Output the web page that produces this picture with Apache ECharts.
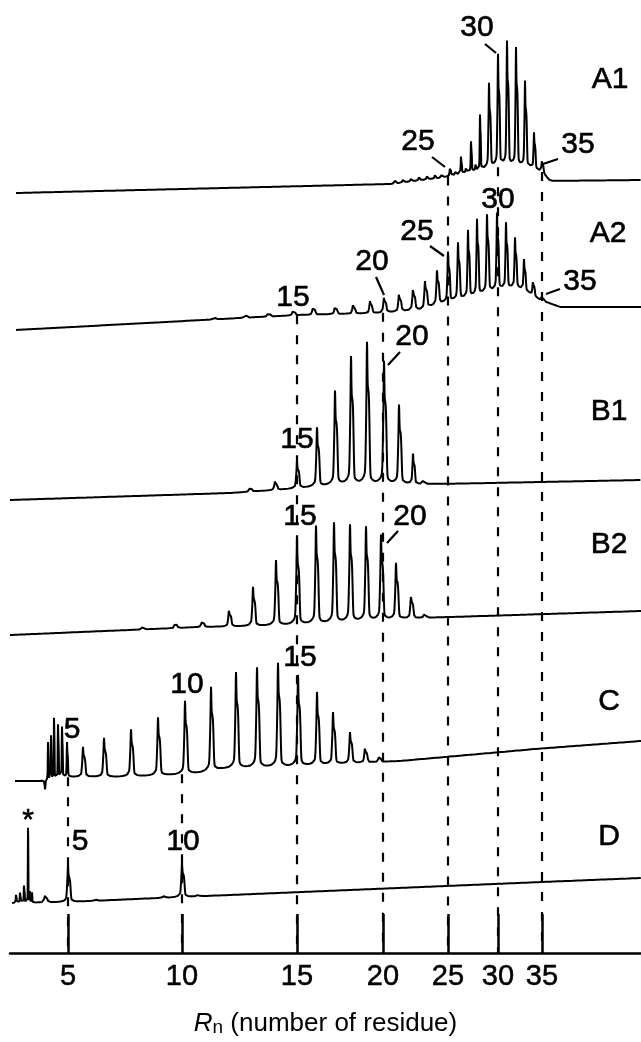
<!DOCTYPE html>
<html><head><meta charset="utf-8">
<script src="https://cdn.jsdelivr.net/npm/echarts@6/dist/echarts.min.js"></script>
<style>html,body{margin:0;padding:0;background:#fff}#c{width:641px;height:1042px}</style>
</head><body><div id="c"></div>
<script>
// ---- axis: retention position of each residue number ----
const residueTicks = [5, 10, 15, 20, 25, 30, 35];
const tickTimes = [5.8, 17.2, 28.7, 37.3, 43.8, 48.8, 53.2];
const dashTopTrace = ['C', 'C', 'A2', 'A2', 'A1', 'A1', 'A1'];

// ---- traces: baseline knots [t, signal] and peaks [t, height] ----
const a1Baseline = [[0.6,76.0],[38.0,76.9],[43.0,77.5],[46.0,78.1],[49.0,78.6],[52.0,78.5],[53.2,78.1],[54.0,77.2],[63.1,77.3]];
const a1Peaks = [[38.5,0.25],[39.3,0.3],[40.1,0.3],[40.9,0.35],[41.7,0.35],[42.5,0.4],[43.2,0.4],
  [44.0,0.9],[44.55,0.4],[45.1,1.7],[45.6,0.5],[46.1,3.0],[46.55,0.6],[47.0,5.5],[47.9,8.5],[48.8,11.2],
  [49.7,12.5],[50.6,11.9],[51.5,8.6],[52.4,3.6],[53.2,1.2]];

const a2Baseline = [[0.6,62.3],[23.0,63.5],[29.0,63.8],[37.0,64.0],[41.0,64.3],[43.0,64.9],[46.3,65.6],[49.0,66.3],[50.7,66.5],[51.7,66.1],[53.0,65.3],[55.0,64.6],[63.1,64.6]];
const a2Peaks = [[20.4,0.2],[23.5,0.3],[25.8,0.4],[28.3,0.5],[30.3,0.8],[32.5,0.8],[34.3,0.9],[36.0,1.2],
  [37.4,1.6],[38.9,1.8],[40.3,2.2],[41.5,2.7],[42.7,3.4],[43.8,5.0],[44.8,5.7],[45.8,6.7],[46.7,7.6],
  [47.7,7.8],[48.7,7.7],[49.6,6.6],[50.5,5.0],[51.4,3.1],[52.3,1.5],[53.2,0.5]];

const b1Baseline = [[0.0,45.3],[22.0,46.0],[28.0,46.4],[33.0,46.8],[43.0,46.9],[63.1,47.3]];
const b1Peaks = [[24.0,0.4],[26.5,0.9],[28.7,2.7],[30.7,5.9],[32.5,9.4],[34.1,12.8],[35.7,14.2],
  [37.4,12.3],[38.9,7.9],[40.3,3.0],[41.3,0.3]];

const b2Baseline = [[0.0,31.8],[19.0,32.6],[25.0,32.7],[31.0,32.9],[36.0,33.2],[41.0,33.5],[63.1,34.2]];
const b2Peaks = [[13.2,0.2],[16.5,0.5],[19.2,0.6],[21.9,1.7],[24.3,3.9],[26.6,6.5],[28.7,8.7],[30.6,9.8],
  [32.4,10.0],[34.0,9.7],[35.6,9.4],[37.1,8.5],[38.6,5.6],[40.1,2.3],[41.4,0.3]];

const cBaseline = [[0.5,17.2],[3.4,17.2],[6.0,17.6],[10.7,17.6],[16.3,17.8],[19.0,18.0],[21.3,18.4],[23.7,18.5],[27.7,18.6],[31.5,18.8],[34.7,19.0],[39.0,19.2],[52.5,20.4],[63.1,21.2]];
const cPeaks = [[3.5,-0.9],[3.8,3.8],[4.1,4.4],[4.4,6.1],[4.8,5.4],[5.2,5.1],[5.7,3.5],[7.3,3.0],[9.4,3.9],
  [12.1,4.7],[14.8,5.8],[17.5,7.3],[20.1,8.4],[22.6,9.6],[24.7,10.0],[26.8,10.4],[28.8,9.1],[30.7,7.3],
  [32.3,5.2],[34.0,3.1],[35.5,1.5],[36.9,0.5]];

const dBaseline = [[0.2,5.0],[5.8,5.1],[17.2,5.6],[53.2,7.1],[63.1,7.5]];
const dPeaks = [[0.6,0.8],[1.0,1.0],[1.4,1.7],[1.8,7.5],[2.0,1.1],[2.2,1.0],[3.5,0.7],[5.8,3.7],
  [8.5,0.15],[15.3,0.2],[17.2,3.4],[18.7,0.15]];

// ---- annotations ----
const peakLabels = [[46.7,92.5,'30'],[40.8,81.1,'25'],[56.8,80.8,'35'],
  [48.8,75.3,'30'],[40.7,72.1,'25'],[36.2,69.1,'20'],[28.3,65.5,'15'],[57.0,67.1,'35'],
  [40.2,61.6,'20'],[28.7,51.3,'15'],
  [29.0,43.6,'15'],[40.0,43.6,'20'],
  [6.2,22.3,'5'],[17.7,26.8,'10'],[29.0,29.5,'15'],
  [1.8,13.2,'*'],[7.0,11.1,'5'],[17.3,11.1,'10']];
const traceLabels = [[60.0,87.3,'A1'],[59.8,71.9,'A2'],[59.9,54.1,'B1'],[59.9,40.8,'B2'],[59.9,25.1,'C'],[59.9,11.6,'D']];
const leaders = [[[42.2,79.6],[43.5,78.6]],[[47.5,90.9],[48.6,90.0]],[[53.3,78.9],[54.8,79.4]],
  [[42.0,70.7],[43.4,69.7]],[[36.6,67.6],[37.4,65.8]],[[53.6,65.9],[55.0,66.4]],
  [[39.0,60.1],[37.8,58.8]],[[38.8,42.2],[37.7,41.0]]];

const X_MAX = 63.1, Y_MAX = 95.3;
const FONT = 'Liberation Sans, Arial, sans-serif';

const traces = {A1:[a1Baseline,a1Peaks],A2:[a2Baseline,a2Peaks],B1:[b1Baseline,b1Peaks],B2:[b2Baseline,b2Peaks],C:[cBaseline,cPeaks],D:[dBaseline,dPeaks]};

function interp(knots, t){
  if (t <= knots[0][0]) return knots[0][1];
  for (let i=1;i<knots.length;i++){
    if (t <= knots[i][0]){
      const a=knots[i-1], b=knots[i];
      return a[1] + (b[1]-a[1])*(t-a[0])/(b[0]-a[0]);
    }
  }
  return knots[knots.length-1][1];
}
function L(d,w){ const r=d/w; return 1/(1+r*r); }
function G(d,s){ const r=d/s; return Math.exp(-0.5*r*r); }
function G4(d,s){ const r=d/s; return Math.exp(-r*r*r*r); }
// peak profile: thin apex + steep-sided body + faint rounded skirt; k narrows crowded peaks
function shapeRaw(d,k){ return 0.32*G(d,0.03*Math.max(k,0.6)) + 0.56*G4(d-0.08*k,0.2*k) + 0.12*L(d,0.28*k); }
function peakNorm(k){ let m=0; for (let d=-0.2; d<=0.4; d+=0.0005) m=Math.max(m, shapeRaw(d,k)); return m; }

function buildTrace(base, peaks){
  const t0 = base[0][0];
  const sorted = peaks.slice().sort((a,b)=>a[0]-b[0]);
  const prof = sorted.map((p,i) => {
    const gl = i>0 ? p[0]-sorted[i-1][0] : 9, gr = i<sorted.length-1 ? sorted[i+1][0]-p[0] : 9;
    const k = Math.min(1, Math.min(gl,gr)/1.2);
    return {t:p[0], h:p[1], k, n:peakNorm(k)};
  });
  const ts = [];
  for (let t=t0; t<=X_MAX+1e-9; t+=0.02) ts.push(+t.toFixed(3));
  peaks.forEach(p => ts.push(p[0]));
  ts.sort((a,b)=>a-b);
  return ts.map(t => {
    let v = interp(base, t);
    for (const p of prof){ const d=t-p.t; if (Math.abs(d)<8) v += p.h*shapeRaw(d,p.k)/p.n; }
    return [t, +v.toFixed(3)];
  });
}

const series = [];
// dashed guide lines from each residue tick up to the trace where it is labelled
tickTimes.forEach((t,i) => {
  const top = interp(traces[dashTopTrace[i]][0], t);
  series.push({type:'line', data:[[t,top],[t,0]], showSymbol:false, silent:true, z:1,
    lineStyle:{color:'#000', width:2.2, type:[9,11]}, animation:false});
});
Object.keys(traces).forEach(k => {
  series.push({type:'line', name:k, data: buildTrace(traces[k][0], traces[k][1]), showSymbol:false,
    silent:true, z:3, lineStyle:{color:'#000', width:2}, animation:false});
});
series.push({type:'lines', coordinateSystem:'cartesian2d', z:4, silent:true, animation:false,
  lineStyle:{color:'#000', width:2.2, opacity:1}, data: leaders.map(c => ({coords:c}))});
series.push({type:'scatter', z:5, silent:true, animation:false, symbolSize:1, itemStyle:{color:'rgba(0,0,0,0)'},
  data: peakLabels.concat(traceLabels).map(l => ({value:[l[0],l[1]], name:l[2]})),
  label:{show:true, position:'inside', formatter:'{b}', color:'#000', opacity:1, fontSize:30, fontFamily:FONT,
    textBorderColor:'#000', textBorderWidth:0.6}});

const chart = echarts.init(document.getElementById('c'), null, {renderer:'canvas'});
chart.setOption({
  animation:false,
  backgroundColor:'#fff',
  grid:{left:10, right:0, top:0, bottom:89, containLabel:false},
  xAxis:{type:'value', min:0, max:X_MAX,
    axisLine:{show:true, onZero:false, lineStyle:{color:'#000', width:2.5}},
    axisTick:{show:true, inside:true, length:39, customValues:tickTimes, lineStyle:{color:'#000', width:2.5}},
    axisLabel:{show:true, customValues:tickTimes, margin:9, color:'#000', fontSize:29, fontFamily:FONT,
      textBorderColor:'#000', textBorderWidth:0.5,
      formatter: v => { const i = tickTimes.findIndex(x => Math.abs(x-v)<1e-6); return i>=0 ? String(residueTicks[i]) : ''; }},
    splitLine:{show:false},
    name:'{i|R}{s|n}{t| (number of residue)}', nameLocation:'middle', nameGap:58,
    nameTextStyle:{color:'#000', fontSize:26, fontFamily:FONT,
      rich:{i:{fontStyle:'italic', fontSize:26, fontFamily:FONT, color:'#000'},
            s:{fontSize:19, fontFamily:FONT, color:'#000', verticalAlign:'bottom', lineHeight:12},
            t:{fontSize:26, fontFamily:FONT, color:'#000'}}}
  },
  yAxis:{type:'value', min:0, max:Y_MAX, show:false},
  series
});
</script></body></html>
